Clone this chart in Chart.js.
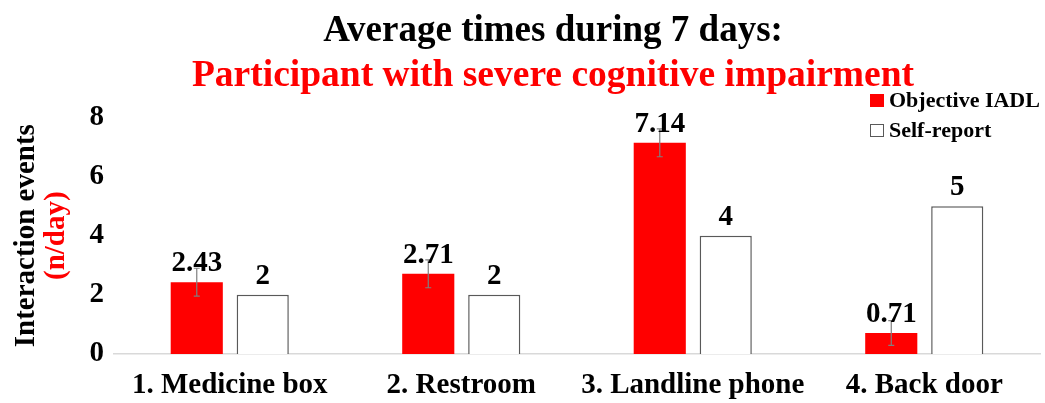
<!DOCTYPE html>
<html>
<head>
<meta charset="utf-8">
<script src="https://cdn.jsdelivr.net/npm/chart.js@4"></script>
<style>
  html, body { margin: 0; padding: 0; background: #fff; }
  #wrap { width: 1045px; height: 403px; }
</style>
</head>
<body>
<div id="wrap"><canvas id="myChart" width="1045" height="403"></canvas></div>
<script>
// Chart data
const categories = ['1. Medicine box', '2. Restroom', '3. Landline phone', '4. Back door'];
const objectiveIadl = [2.43, 2.71, 7.14, 0.71];
const objectiveErr = [0.47, 0.47, 0.47, 0.42];
const selfReport = [2, 2, 4, 5];
const yMin = 0, yMax = 8, yStep = 2;

const FONT = '"Liberation Serif", "Times New Roman", serif';

// error bars on the objective series
const errorBars = {
    id: 'errorBars',
    afterDatasetsDraw(chart) {
        const ctx = chart.ctx;
        const meta = chart.getDatasetMeta(0);
        const y = chart.scales.y;
        ctx.save();
        ctx.strokeStyle = '#7f7f7f';
        ctx.lineWidth = 1.2;
        meta.data.forEach((bar, i) => {
            const v = objectiveIadl[i], e = objectiveErr[i];
            const top = y.getPixelForValue(v + e), bot = y.getPixelForValue(v - e);
            ctx.beginPath();
            ctx.moveTo(bar.x, top); ctx.lineTo(bar.x, bot);
            ctx.moveTo(bar.x - 3, top); ctx.lineTo(bar.x + 3, top);
            ctx.moveTo(bar.x - 3, bot); ctx.lineTo(bar.x + 3, bot);
            ctx.stroke();
        });
        ctx.restore();
    }
};

// value labels above bars
const valueLabels = {
    id: 'valueLabels',
    afterDraw(chart) {
        const ctx = chart.ctx;
        ctx.save();
        ctx.font = 'bold 29px ' + FONT;
        ctx.fillStyle = '#000';
        ctx.textAlign = 'center';
        ctx.textBaseline = 'alphabetic';
        chart.data.datasets.forEach((ds, di) => {
            chart.getDatasetMeta(di).data.forEach((bar, i) => {
                ctx.fillText(String(ds.data[i]), bar.x, bar.y - 11);
            });
        });
        ctx.restore();
    }
};

// two-colour y axis title and legend box
const extras = {
    id: 'extras',
    afterDraw(chart) {
        const ctx = chart.ctx;
        const area = chart.chartArea;
        const cy = (area.top + area.bottom) / 2;
        ctx.save();
        ctx.font = 'bold 29px ' + FONT;
        ctx.textAlign = 'center';
        ctx.textBaseline = 'alphabetic';
        ctx.fillStyle = '#000';
        ctx.save();
        ctx.translate(34, cy);
        ctx.rotate(-Math.PI / 2);
        ctx.fillText('Interaction events', 0, 0);
        ctx.restore();
        ctx.fillStyle = '#ff0000';
        ctx.translate(64, cy);
        ctx.rotate(-Math.PI / 2);
        ctx.fillText('(n/day)', 0, 0);
        ctx.restore();

        // legend
        ctx.save();
        ctx.font = 'bold 22px ' + FONT;
        ctx.textAlign = 'left';
        ctx.textBaseline = 'middle';
        chart.data.datasets.forEach((ds, i) => {
            const ly = 101 + i * 30;
            ctx.fillStyle = ds.backgroundColor;
            ctx.fillRect(870, ly - 7, 14, 13);
            if (ds.borderWidth) {
                ctx.strokeStyle = ds.borderColor;
                ctx.lineWidth = 1;
                ctx.strokeRect(870.5, ly - 6.5, 13, 12);
            }
            ctx.fillStyle = '#000';
            ctx.fillText(ds.label, 889, ly);
        });
        ctx.restore();
    }
};

const ctx = document.getElementById('myChart').getContext('2d');
new Chart(ctx, {
    type: 'bar',
    data: {
        labels: categories,
        datasets: [
            {
                label: 'Objective IADL',
                data: objectiveIadl,
                backgroundColor: '#ff0000',
                borderWidth: 0
            },
            {
                label: 'Self-report',
                data: selfReport,
                backgroundColor: '#ffffff',
                borderColor: '#595959',
                borderWidth: 1.5
            }
        ]
    },
    options: {
        responsive: false,
        animation: false,
        layout: { padding: { left: 66, right: 5, top: 0, bottom: 0 } },
        datasets: {
            bar: { categoryPercentage: 0.57, barPercentage: 0.79 }
        },
        plugins: {
            legend: { display: false },
            tooltip: { enabled: false },
            title: {
                display: true,
                text: 'Average times during 7 days:',
                color: '#000',
                font: { family: FONT, size: 37, weight: 'bold', lineHeight: 1.2 },
                padding: { top: 9, bottom: 0 }
            },
            subtitle: {
                display: true,
                text: 'Participant with severe cognitive impairment',
                color: '#ff0000',
                font: { family: FONT, size: 37.5, weight: 'bold', lineHeight: 1.2 },
                padding: { top: 0, bottom: 19 }
            }
        },
        scales: {
            x: {
                grid: { display: false, drawTicks: false },
                border: { display: true, color: '#d9d9d9', width: 1.5 },
                afterFit(scale) { scale.height = 49; },
                ticks: {
                    color: '#000',
                    font: { family: FONT, size: 29, weight: 'bold' },
                    padding: 14
                }
            },
            y: {
                min: yMin,
                max: yMax,
                grid: { display: false, drawTicks: false },
                border: { display: false },
                afterFit(scale) { scale.width = 48; },
                ticks: {
                    stepSize: yStep,
                    color: '#000',
                    font: { family: FONT, size: 29, weight: 'bold' },
                    padding: 10
                }
            }
        }
    },
    plugins: [errorBars, valueLabels, extras]
});
</script>
</body>
</html>
